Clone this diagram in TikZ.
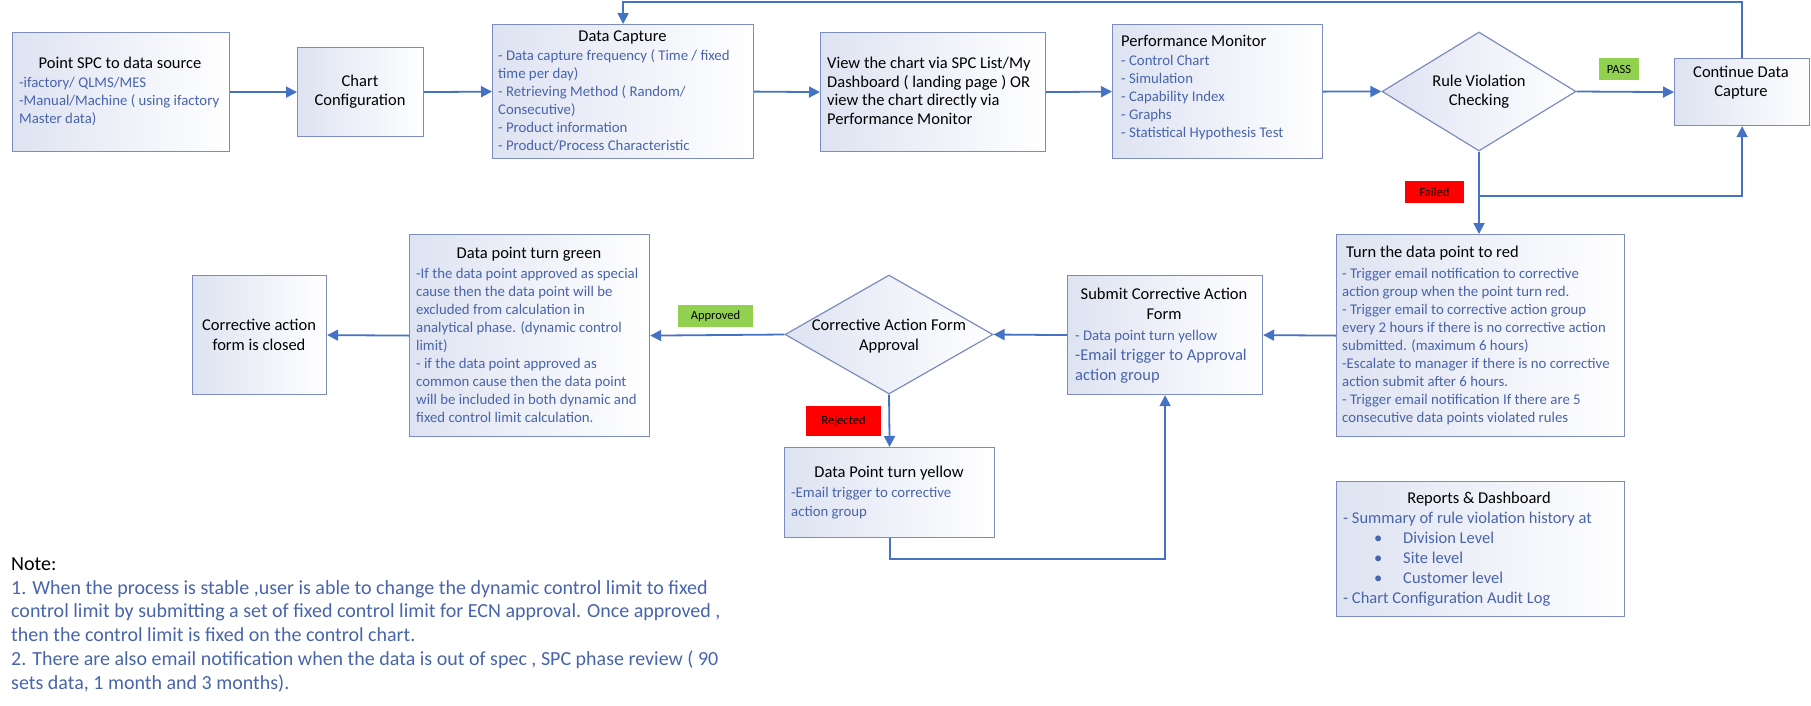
\documentclass[tikz,border=0pt]{standalone}
\usepackage{fontspec}
\setmainfont{Carlito}
\usetikzlibrary{shapes.geometric,arrows.meta}
\definecolor{connc}{RGB}{68,114,196}
\definecolor{bordc}{RGB}{124,140,190}
\definecolor{bluc}{RGB}{72,100,170}
\definecolor{boxl}{RGB}{222,227,242}
\definecolor{passg}{RGB}{146,208,80}
\definecolor{failr}{RGB}{255,0,0}
\newcommand{\FontT}{\fontsize{16.5}{19}\selectfont}
\newcommand{\FontTT}{\fontsize{16.5}{20}\selectfont}
\newcommand{\FontB}{\fontsize{14.8}{18.1}\selectfont}
\newcommand{\FontN}{\fontsize{20}{23.9}\selectfont}
\newcommand{\FontG}{\fontsize{12.5}{14}\selectfont}
\tikzset{
  box/.style={draw=bordc, line width=1.2pt, left color=boxl, right color=white, inner sep=0pt, anchor=north west},
  dia/.style={diamond, draw=bordc, line width=1.2pt, left color=boxl, right color=white, inner sep=0pt},
  conn/.style={draw=connc, line width=1.8pt},
  arr/.style={conn, -{Triangle[length=11pt,width=11pt]}},
  ttl/.style={text=black, font=\FontT, inner sep=0pt, align=center, anchor=base},
  ttll/.style={text=black, font=\FontT, inner sep=0pt, align=left, anchor=base west},
  body/.style={text=bluc, font=\FontB, align=left, inner sep=0pt, anchor=base west},
  bodyl/.style={text=bluc, font=\FontTT, align=left, inner sep=0pt, anchor=base west},
  tag/.style={font=\FontG, text=black, inner sep=0pt, anchor=center},
}
\begin{document}
\begin{tikzpicture}[x=1pt,y=-1pt]
\useasboundingbox (0,0) rectangle (1811,705);

% (multi-line text nodes are placed by the baseline of their last line)
% ---- top row
\node[box, minimum width=217pt, minimum height=119pt] (src) at (12,32) {};
\node[ttl] (srcT) at (120,68.5) {Point SPC to data source};
\node[body] (srcB) at (19,123.2) {-ifactory/ QLMS/MES\\-Manual/Machine ( using ifactory\\Master data)};

\node[box, minimum width=126pt, minimum height=89pt] (cfg) at (297,47) {};
\node[ttl] (cfgT) at (360,105.5) {Chart\\Configuration};

\node[box, minimum width=261pt, minimum height=134pt] (cap) at (492,24) {};
\node[ttl] (capT) at (622.5,41.5) {Data Capture};
\node[body] (capB) at (498,150.5) {- Data capture frequency ( Time / fixed\\time per day)\\- Retrieving Method ( Random/\\Consecutive)\\- Product information\\- Product/Process Characteristic};

\node[box, minimum width=225pt, minimum height=119pt] (view) at (820,32) {};
\node[ttll, font=\fontsize{16.5}{18.67}\selectfont] (viewT) at (827,124.5) {View the chart via SPC List/My\\Dashboard ( landing page ) OR\\view the chart directly via\\Performance Monitor};

\node[box, minimum width=210pt, minimum height=134pt] (pm) at (1112,24) {};
\node[ttll] (pmT) at (1121,46.5) {Performance Monitor};
\node[body, font=\fontsize{14.8}{18}\selectfont] (pmB) at (1121,137) {- Control Chart\\- Simulation\\- Capability Index\\- Graphs\\- Statistical Hypothesis Test};

\node[dia, minimum width=194pt, minimum height=119pt] (rule) at (1479,91.5) {};
\node[ttl] (ruleT) at (1479,105.5) {Rule Violation\\Checking};

\node[box, minimum width=135pt, minimum height=67pt] (cont) at (1674,58) {};
\node[ttl] (contT) at (1741,96) {Continue Data\\Capture};

% ---- middle row
\node[box, minimum width=288pt, minimum height=202pt] (red) at (1336,234) {};
\node[ttll] (redT) at (1346,257.5) {Turn the data point to red};
\node[body, font=\fontsize{14.8}{18}\selectfont] (redB) at (1342,422) { - Trigger email notification to corrective\\action group when the point turn red.\\- Trigger email to corrective action group\\every 2 hours if there is no corrective action\\submitted. (maximum 6 hours)\\-Escalate to manager if there is no corrective\\action submit after 6 hours.\\- Trigger email notification If there are 5\\consecutive data points violated rules};

\node[box, minimum width=195pt, minimum height=119pt] (sub) at (1067,275) {};
\node[ttl, font=\FontTT] (subT) at (1164,319.5) {Submit Corrective Action\\Form};
\node[body] (subB1) at (1075,340) {- Data point turn yellow};
\node[bodyl] (subB2) at (1075,380.5) {-Email trigger to Approval\\action group};

\node[dia, minimum width=208pt, minimum height=119pt] (appr) at (889,334.5) {};
\node[ttl, font=\FontTT] (apprT) at (889,350.5) {Corrective Action Form\\Approval};

\node[box, minimum width=210pt, minimum height=90pt] (yel) at (784,447) {};
\node[ttl] (yelT) at (889,477.5) {Data Point turn yellow};
\node[body, font=\fontsize{14.8}{19}\selectfont] (yelB) at (791,516) {-Email trigger to corrective\\action group};

\node[box, minimum width=240pt, minimum height=202pt] (grn) at (409,234) {};
\node[ttl] (grnT) at (529,258.5) {Data point turn green};
\node[body, font=\fontsize{14.8}{18}\selectfont] (grnB) at (416,422) {-If the data point approved as special\\cause then the data point will be\\excluded from calculation in\\analytical phase. (dynamic control\\limit)\\- if the data point approved as\\common cause then the data point\\will be included in both dynamic and\\fixed control limit calculation.};

\node[box, minimum width=134pt, minimum height=119pt] (clo) at (192,275) {};
\node[ttl, font=\FontTT] (cloT) at (259,350.5) {Corrective action\\form is closed};

% ---- reports
\node[box, minimum width=288pt, minimum height=135pt] (rep) at (1336,481) {};
\node[ttl] (repT) at (1479,503.5) {Reports \& Dashboard};
\node[bodyl] (repB) at (1343,603) {- Summary of rule violation history at\\\hspace*{31pt}\makebox[29pt][l]{•}Division Level\\\hspace*{31pt}\makebox[29pt][l]{•}Site level\\\hspace*{31pt}\makebox[29pt][l]{•}Customer level\\- Chart Configuration Audit Log};

% ---- tags
\node[tag, fill=passg, minimum width=40pt, minimum height=22pt] (pass) at (1619,69) {PASS};
\node[tag, fill=failr, minimum width=59pt, minimum height=22pt] (fail) at (1434.5,192) {Failed};
\node[tag, fill=passg, minimum width=75pt, minimum height=22pt] (apok) at (715.5,316) {Approved};
\node[tag, fill=failr, minimum width=75pt, minimum height=30pt] (rej) at (843.5,421) {Rejected};

% ---- notes
\node[inner sep=0pt, anchor=base west, font=\FontN] (noteH) at (11,570) {Note:};
\node[inner sep=0pt, anchor=base west, font=\FontN, text=bluc, align=left] (noteB) at (11,689.6) {1. When the process is stable ,user is able to change the dynamic control limit to fixed\\control limit by submitting a set of fixed control limit for ECN approval. Once approved ,\\then the control limit is fixed on the control chart.\\2. There are also email notification when the data is out of spec , SPC phase review ( 90\\sets data, 1 month and 3 months).};

% ---- connectors
\coordinate (br) at (1479,196);
\draw[arr] (src.east) -- (cfg.west);
\draw[arr] (cfg.east) -- (cap.west);
\draw[arr] (cap.east) -- (view.west);
\draw[arr] (view.east) -- (pm.west);
\draw[arr] (pm.east) -- (rule.west);
\draw[arr] (rule.east) -- (cont.west);
\draw[arr] (cont.north) -- ++(0,-56) -| (cap.north);
\draw[arr] (rule.south) -- (rule.south |- red.north);
\draw[arr] (br) -| (cont.south);
\draw[arr] (red.west) -- (sub.east);
\draw[arr] (sub.west) -- (appr.east);
\draw[arr] (appr.west) -- (grn.east);
\draw[arr] (grn.west) -- (clo.east);
\draw[arr] (appr.south) -- (yel.north);
\draw[arr] (yel.south) -- ++(0,21) -| (sub.south);
\end{tikzpicture}
\end{document}
